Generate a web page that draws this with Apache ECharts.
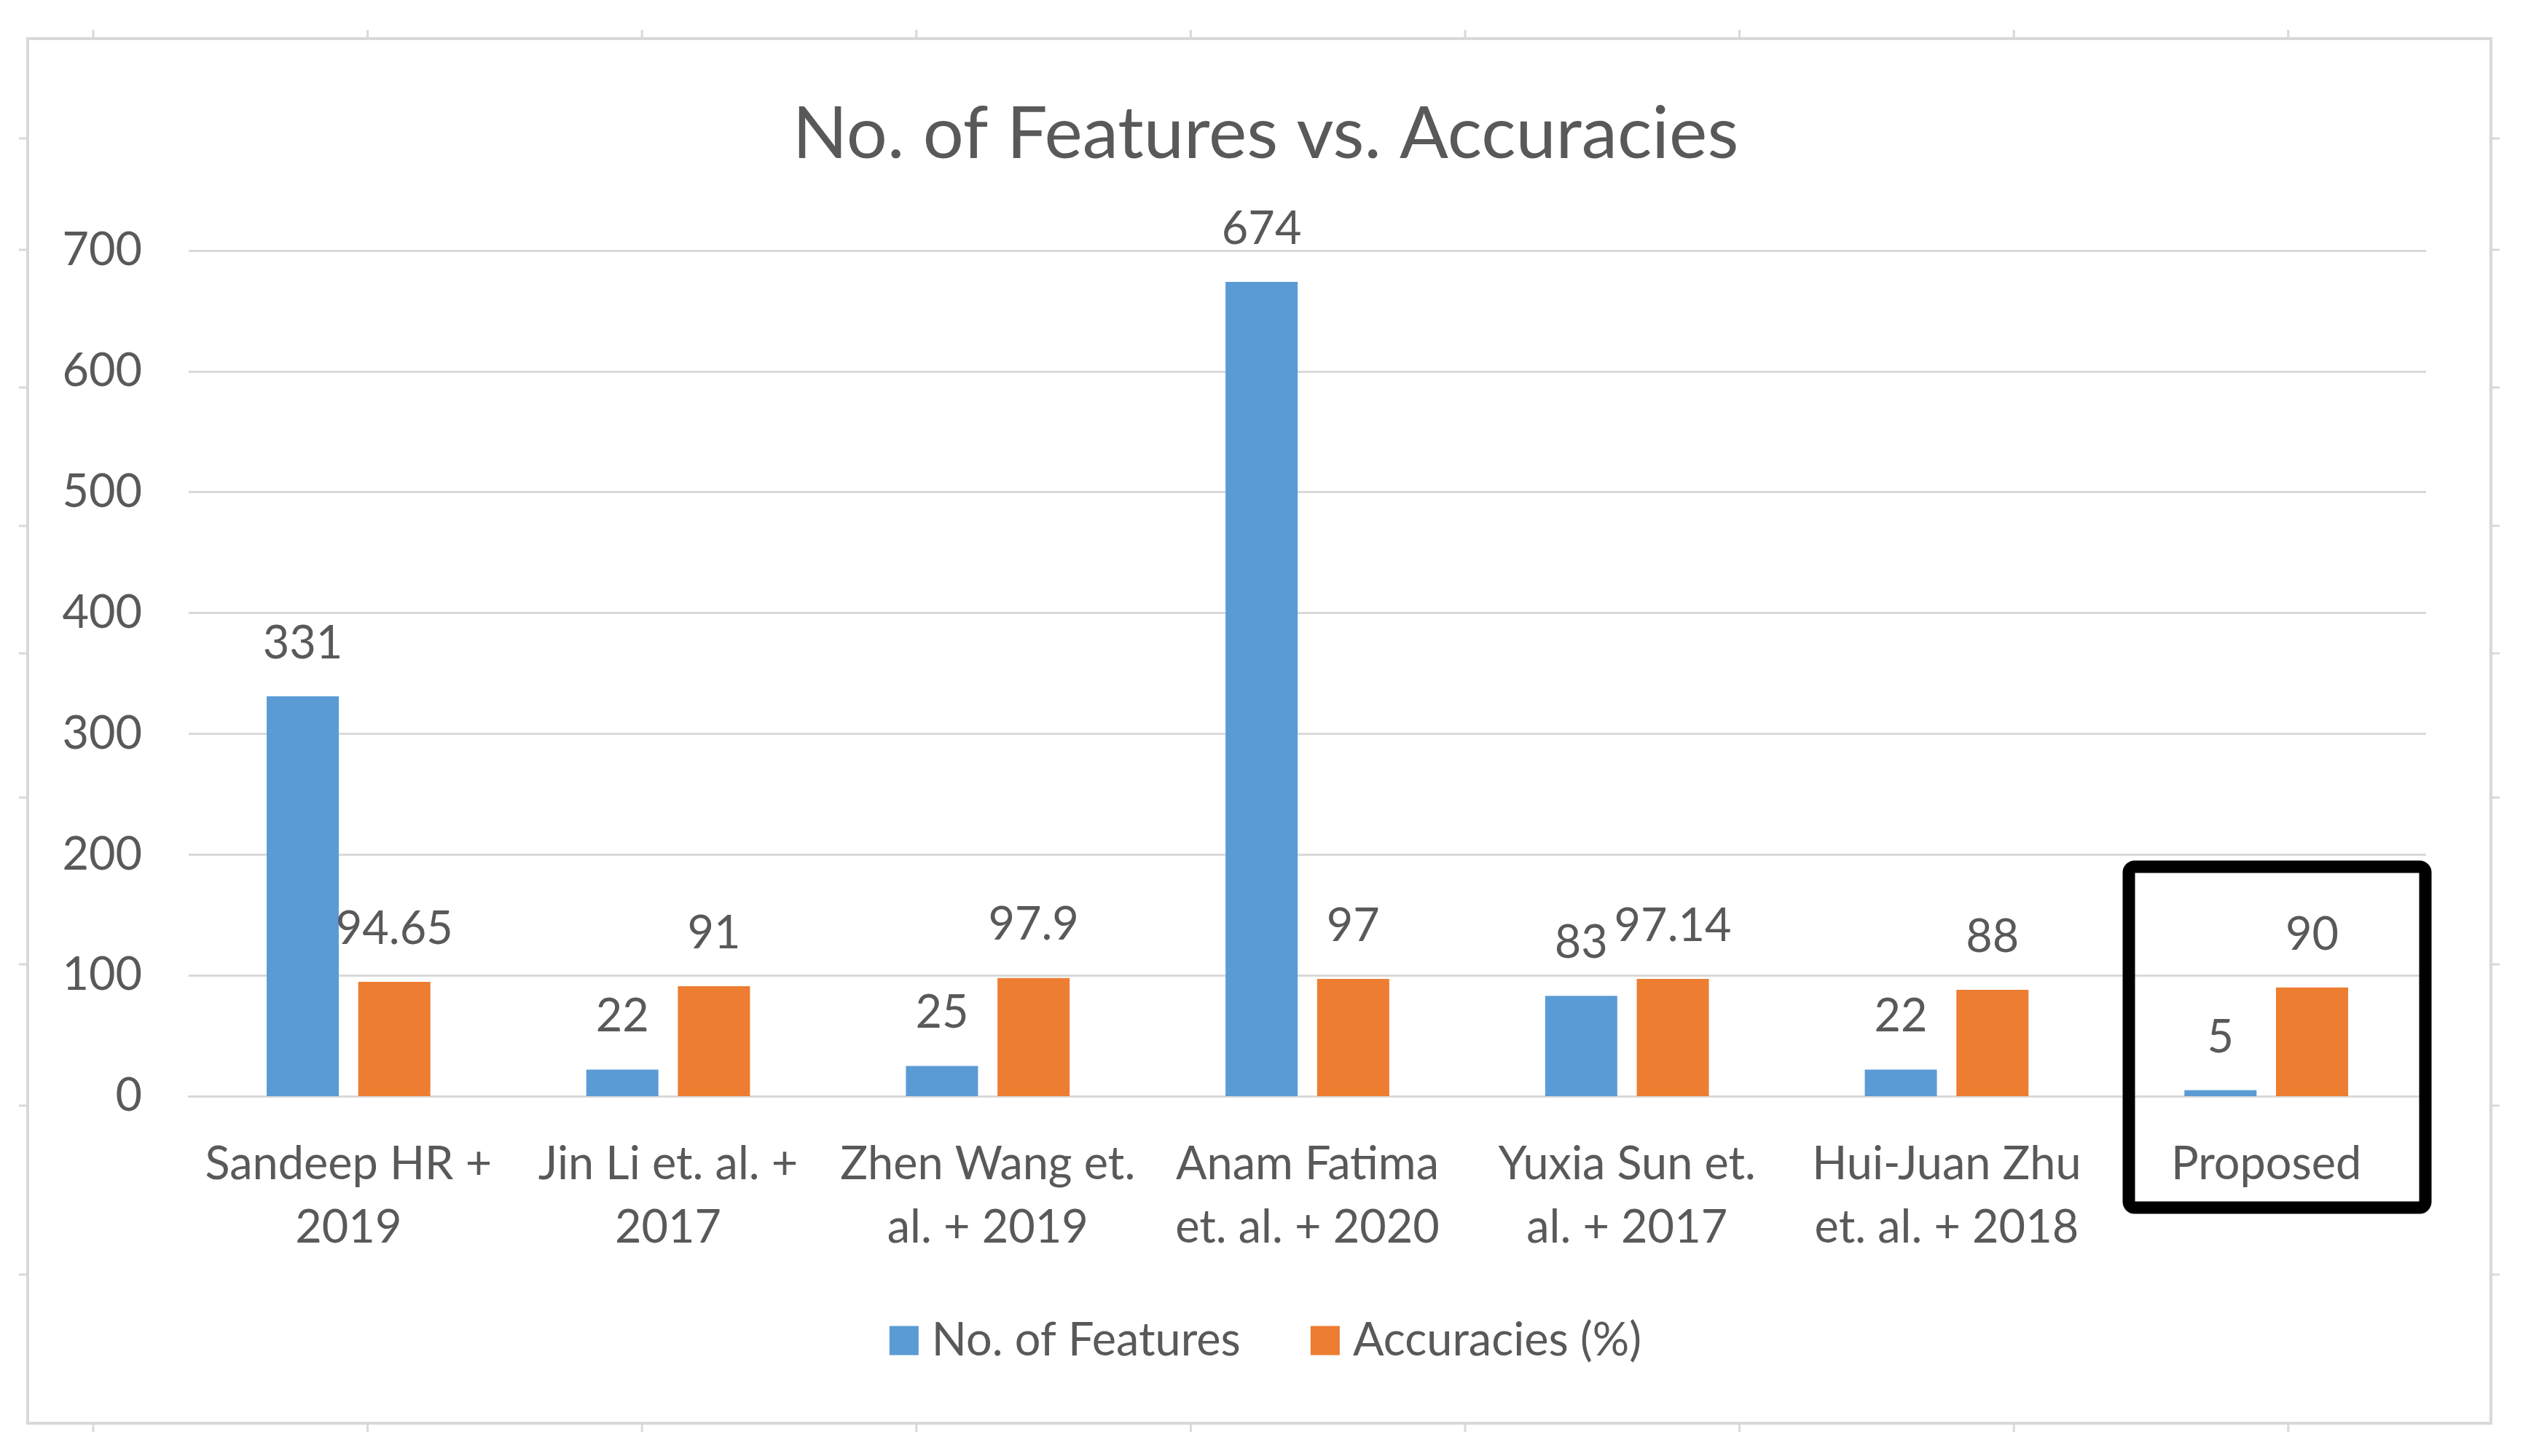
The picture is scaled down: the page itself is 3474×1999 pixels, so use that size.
<!DOCTYPE html>
<html>
<head>
<meta charset="utf-8">
<script src="https://cdn.jsdelivr.net/npm/echarts@6/dist/echarts.min.js"></script>
<style>
html,body{margin:0;padding:0;background:#fff;}
#chart{width:3474px;height:1999px;}
</style>
</head>
<body>
<div id="chart"></div>
<script>
// ---- data ----
const categories = [
  "Sandeep HR +\n2019",
  "Jin Li et. al. +\n2017",
  "Zhen Wang et.\nal. + 2019",
  "Anam Fatima\net. al. + 2020",
  "Yuxia Sun et.\nal. + 2017",
  "Hui-Juan Zhu\net. al. + 2018",
  "Proposed"
];
const featuresName = "No. of Features";
const accuracyName = "Accuracies (%)";
const features = [331, 22, 25, 674, 83, 22, 5];
const accuracies = [94.65, 91, 97.9, 97, 97.14, 88, 90];
const yTicks = [0, 100, 200, 300, 400, 500, 600, 700];
const titleText = "No. of Features vs. Accuracies";

// ---- chart ----
const FONT = "Lato, Carlito, Calibri, sans-serif";
const TXT = "#595959";
const chart = echarts.init(document.getElementById('chart'), null, {renderer: 'canvas'});

// decorative frame (border + small outer ticks)
const frame = [];
const L = 38, T = 53, R = 3419, B = 1954;
frame.push({type: 'rect', shape: {x: L, y: T, width: R - L, height: B - T},
  style: {fill: null, stroke: '#D9D9D9', lineWidth: 4}, silent: true, z: 0});
for (let k = 0; k < 9; k++) {
  const x = 128 + 376.6 * k;
  frame.push({type: 'line', shape: {x1: x, y1: T - 12, x2: x, y2: T}, style: {stroke: '#D9D9D9', lineWidth: 3}, silent: true});
  frame.push({type: 'line', shape: {x1: x, y1: B, x2: x, y2: B + 12}, style: {stroke: '#D9D9D9', lineWidth: 3}, silent: true});
}
[190, 343, 532, 722, 897, 1095, 1324, 1518, 1750].forEach(y => {
  frame.push({type: 'line', shape: {x1: L - 12, y1: y, x2: L, y2: y}, style: {stroke: '#D9D9D9', lineWidth: 3}, silent: true});
  frame.push({type: 'line', shape: {x1: R, y1: y, x2: R + 12, y2: y}, style: {stroke: '#D9D9D9', lineWidth: 3}, silent: true});
});
// highlight box around "Proposed"
frame.push({type: 'rect', shape: {x: 2922, y: 1190, width: 407, height: 468, r: 8},
  style: {fill: null, stroke: '#000', lineWidth: 17}, z: 100, silent: true});

const option = {
  backgroundColor: '#fff',
  animation: false,
  textStyle: {fontFamily: FONT},
  title: {
    text: titleText, left: 'center', top: 131,
    textStyle: {fontFamily: FONT, fontSize: 99, fontWeight: 'normal', color: TXT}
  },
  legend: {
    data: [featuresName, accuracyName],
    left: 'center', top: 1804,
    itemWidth: 40, itemHeight: 40, itemGap: 96,
    icon: 'rect',
    textStyle: {fontFamily: FONT, fontSize: 63, color: TXT, padding: [0, 0, 0, 13]}
  },
  grid: {left: 259, right: 144, top: 344, bottom: 494, containLabel: false},
  xAxis: {
    type: 'category', data: categories,
    axisLine: {show: true, lineStyle: {color: '#D9D9D9', width: 3}},
    axisTick: {show: false},
    axisLabel: {fontFamily: FONT, fontSize: 63, color: TXT, lineHeight: 87, margin: 50, interval: 0}
  },
  yAxis: {
    type: 'value', min: yTicks[0], max: yTicks[yTicks.length - 1], interval: 100,
    axisLine: {show: false}, axisTick: {show: false},
    splitLine: {lineStyle: {color: '#D9D9D9', width: 3}},
    axisLabel: {fontFamily: FONT, fontSize: 63, color: TXT, margin: 64}
  },
  series: [
    {
      name: featuresName, type: 'bar', data: features,
      barWidth: 99, barGap: '27%',
      itemStyle: {color: '#5B9BD5'},
      label: {show: true, position: 'top', distance: 41, fontFamily: FONT, fontSize: 63, color: TXT}
    },
    {
      name: accuracyName, type: 'bar', data: accuracies,
      barWidth: 99,
      itemStyle: {color: '#ED7D31'},
      label: {show: true, position: 'top', distance: 41, fontFamily: FONT, fontSize: 63, color: TXT}
    }
  ],
  graphic: frame
};
chart.setOption(option);
</script>
</body>
</html>
